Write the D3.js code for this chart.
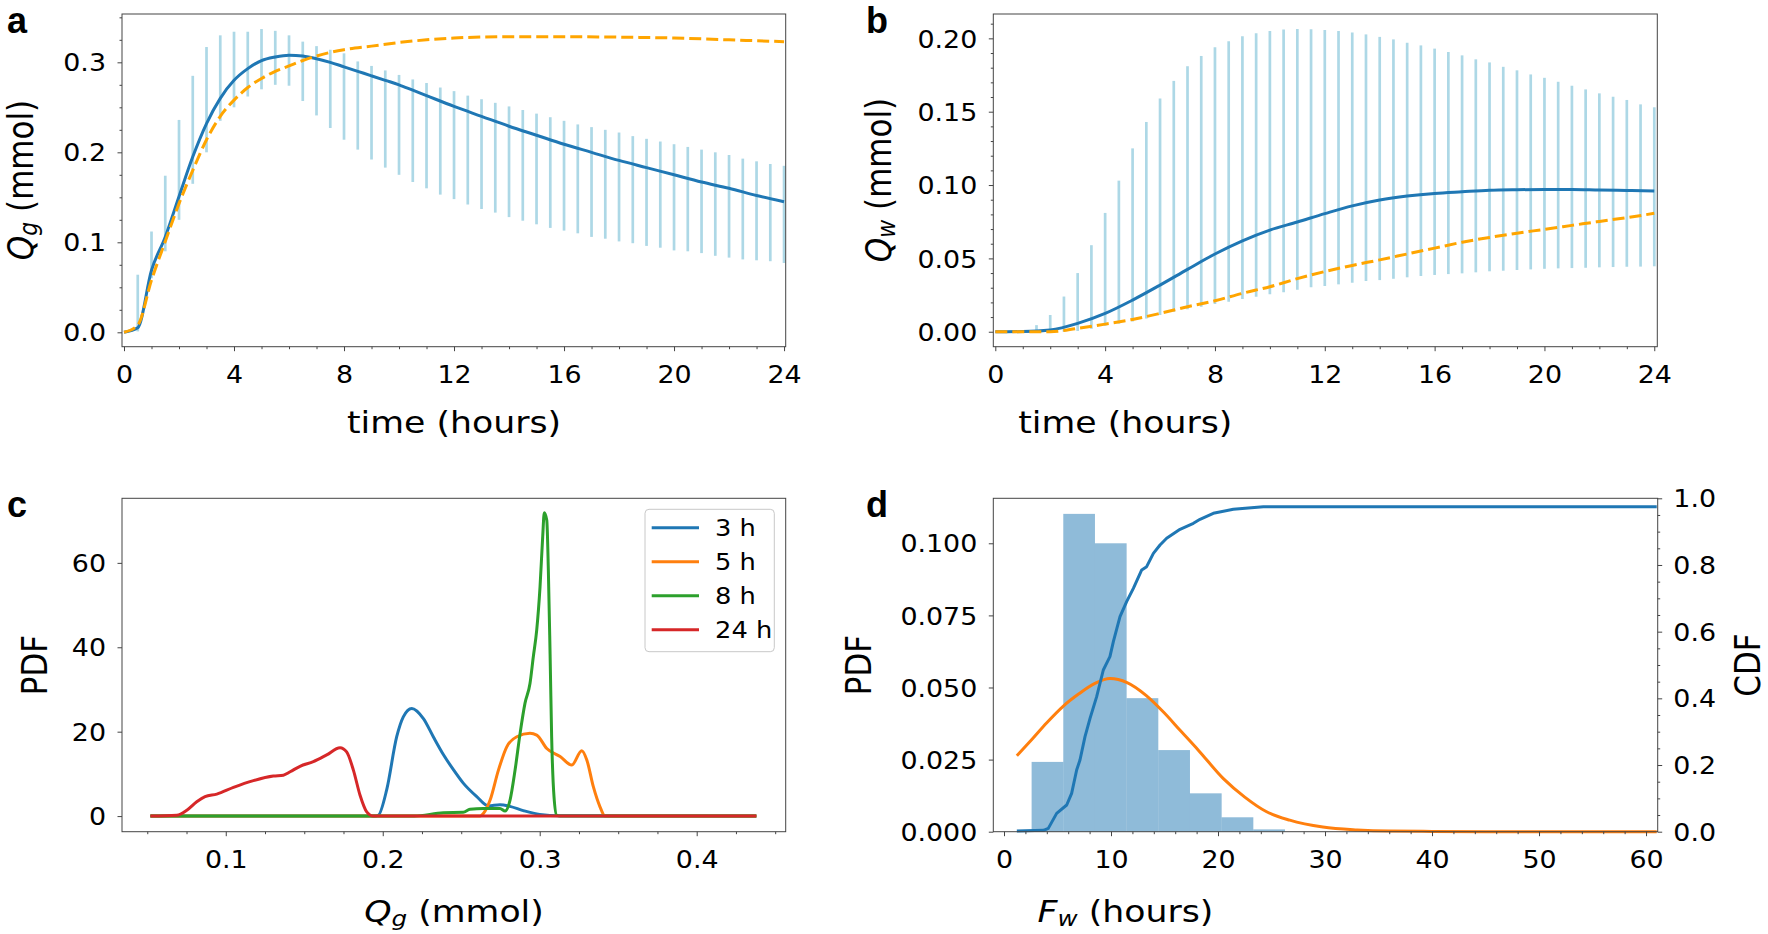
<!DOCTYPE html>
<html lang="en">
<head>
    <meta charset="UTF-8">
    <title>Q_g / Q_w time courses and distributions</title>
    <script src="https://cdnjs.cloudflare.com/ajax/libs/d3/7.8.5/d3.min.js"></script>
    <style>
        body { margin: 0; background: #fff; }
        svg text { font-family: "DejaVu Sans", sans-serif; fill: #000; }
    </style>
</head>
<body>

<script>

    //________________________________________________
    // Data
    //________________________________________________

    // error bar times, shared by panels a and b
    var barTime = [0.5, 1, 1.5, 2, 2.5, 3, 3.5, 4, 4.5, 5, 5.5, 6, 6.5, 7, 7.5, 8, 8.5, 9, 9.5, 10, 10.5, 11, 11.5, 12,
        12.5, 13, 13.5, 14, 14.5, 15, 15.5, 16, 16.5, 17, 17.5, 18, 18.5, 19, 19.5, 20, 20.5, 21, 21.5, 22, 22.5, 23, 23.5, 24];

    // panel a
    var qgBarLow = [0.001, 0.060, 0.090, 0.125, 0.165, 0.200, 0.235, 0.250, 0.262, 0.270, 0.275, 0.274, 0.257, 0.241, 0.227, 0.214,
        0.203, 0.192, 0.183, 0.175, 0.167, 0.160, 0.153, 0.148, 0.142, 0.137, 0.133, 0.128, 0.124, 0.120, 0.116, 0.113,
        0.110, 0.106, 0.104, 0.101, 0.099, 0.096, 0.094, 0.091, 0.090, 0.088, 0.085, 0.083, 0.081, 0.080, 0.079, 0.077];
    var qgBarHigh = [0.064, 0.112, 0.174, 0.236, 0.285, 0.317, 0.330, 0.334, 0.334, 0.337, 0.335, 0.330, 0.323, 0.318, 0.314, 0.310,
        0.301, 0.296, 0.291, 0.286, 0.281, 0.277, 0.272, 0.268, 0.263, 0.259, 0.255, 0.251, 0.247, 0.243, 0.239, 0.235,
        0.231, 0.228, 0.225, 0.222, 0.218, 0.215, 0.212, 0.209, 0.206, 0.203, 0.200, 0.197, 0.193, 0.190, 0.187, 0.185];
    var qgMeanTime = [0, 0.5, 1, 1.5, 2, 2.5, 3, 3.5, 4, 4.5, 5, 5.5, 6, 6.5, 7, 7.5, 8, 8.5, 9, 9.5, 10, 10.5,
        11, 12, 13, 14, 15, 16, 17, 18, 19, 20, 21, 22, 23, 24];
    var qgMean = [0, 0.005, 0.069, 0.106, 0.151, 0.195, 0.232, 0.260, 0.280, 0.293, 0.302, 0.306, 0.308, 0.307, 0.304, 0.300,
        0.295, 0.290, 0.285, 0.280, 0.275, 0.269, 0.263, 0.251, 0.240, 0.229, 0.219, 0.209, 0.200, 0.191, 0.183, 0.175,
        0.167, 0.160, 0.152, 0.145];
    var qgModelTime = [0, 0.5, 1, 1.5, 2, 2.5, 3, 3.5, 4, 4.5, 5, 5.5, 6, 6.5, 7, 7.5, 8, 9, 10, 11, 12, 14, 16, 18, 20, 22, 24];
    var qgModel = [0, 0.008, 0.058, 0.101, 0.143, 0.180, 0.214, 0.240, 0.258, 0.272, 0.282, 0.290, 0.296, 0.302, 0.307, 0.311,
        0.314, 0.318, 0.322, 0.325, 0.327, 0.3285, 0.3285, 0.328, 0.327, 0.325, 0.323];

    // panel b
    var qwBarLow = [0, 0, 0, 0, 0, 0.0005, 0.002, 0.004, 0.0055, 0.007, 0.009, 0.0114, 0.0136, 0.0153, 0.017, 0.0189,
        0.0205, 0.0223, 0.0239, 0.0255, 0.0269, 0.0286, 0.0303, 0.0312, 0.0323, 0.0334, 0.0346, 0.0352, 0.0361, 0.0371,
        0.038, 0.0387, 0.0393, 0.0398, 0.0405, 0.0412, 0.0416, 0.0421, 0.0425, 0.0429, 0.0432, 0.0434, 0.0436, 0.0439,
        0.0441, 0.0443, 0.0444, 0.0446];
    var qwBarHigh = [0, 0.001, 0.0045, 0.0114, 0.024, 0.040, 0.059, 0.081, 0.103, 0.125, 0.143, 0.159, 0.171, 0.181, 0.188,
        0.194, 0.198, 0.2015, 0.2035, 0.205, 0.206, 0.2063, 0.2062, 0.2057, 0.205, 0.204, 0.2027, 0.201, 0.1993, 0.197,
        0.1952, 0.193, 0.1907, 0.1884, 0.1857, 0.1836, 0.1806, 0.1782, 0.1754, 0.1731, 0.1704, 0.1677, 0.1652, 0.1625,
        0.1602, 0.158, 0.155, 0.153];
    var qwTime = [0, 1, 2, 3, 4, 5, 6, 7, 8, 9, 10, 11, 12, 13, 14, 15, 16, 17, 18, 19, 20, 21, 22, 23, 24];
    var qwMean = [0, 0.0001, 0.0012, 0.0057, 0.0125, 0.0216, 0.0318, 0.0425, 0.053, 0.062, 0.0693, 0.0748, 0.0805, 0.0858,
        0.0898, 0.0925, 0.0943, 0.0954, 0.0964, 0.0968, 0.097, 0.097, 0.0966, 0.0963, 0.0959];
    var qwModel = [0, 0, 0, 0.0023, 0.0052, 0.0084, 0.0125, 0.017, 0.0211, 0.0262, 0.0307, 0.0362, 0.041, 0.0452, 0.049,
        0.053, 0.057, 0.061, 0.0643, 0.0672, 0.0698, 0.0725, 0.0752, 0.0778, 0.0807];

    // panel c: PDF of Q_g at four times
    var pdfLabels = ['3 h', '5 h', '8 h', '24 h'];
    var pdfColors = ['#1f77b4', '#ff7f0e', '#2ca02c', '#d62728'];
    var pdf3hQ = [0.052, 0.195, 0.1972, 0.2025, 0.2089, 0.2131, 0.2185, 0.2259, 0.2322, 0.2386, 0.245, 0.2513, 0.2599,
        0.2673, 0.2747, 0.281, 0.2895, 0.300, 0.313, 0.438];
    var pdf3h = [0, 0, 0.2, 6.2, 18.8, 23.5, 25.5, 23.1, 18.8, 14.6, 11.0, 7.8, 4.6, 2.4, 2.7, 2.3, 1.3, 0.4, 0.1, 0];
    var pdf5hQ = [0.052, 0.262, 0.2641, 0.2684, 0.2737, 0.279, 0.2854, 0.2938, 0.2981, 0.3045, 0.313, 0.3204, 0.3268,
        0.330, 0.3342, 0.3384, 0.3416, 0.438];
    var pdf5h = [0, 0, 0.6, 3.8, 10.9, 16.4, 18.8, 19.6, 19.2, 16.0, 14.1, 12.1, 15.5, 13.3, 6.9, 2.2, 0, 0];
    var pdf8hQ = [0.052, 0.22, 0.2386, 0.2513, 0.2556, 0.2641, 0.2747, 0.2779, 0.2811, 0.2843, 0.2875, 0.2906, 0.2938,
        0.2959, 0.2981, 0.3002, 0.3019, 0.3029, 0.3045, 0.3055, 0.3066, 0.3076, 0.3091, 0.3108, 0.313, 0.438];
    var pdf8h = [0, 0, 0.8, 0.9, 1.6, 1.8, 1.8, 1.2, 3.8, 10.9, 19.6, 26.7, 31.4, 37.7, 44.1, 54.3, 66.2, 71.9, 70.1,
        58.3, 38.5, 18.8, 4.6, 0.2, 0, 0];
    var pdf24hQ = [0.052, 0.0688, 0.0752, 0.0815, 0.0868, 0.0943, 0.1049, 0.1176, 0.1303, 0.1367, 0.141, 0.1473, 0.1558,
        0.1643, 0.1728, 0.177, 0.1813, 0.1855, 0.1898, 0.194, 0.438];
    var pdf24h = [0, 0.2, 1.4, 3.4, 4.6, 5.2, 6.8, 8.4, 9.5, 9.7, 10.5, 11.8, 12.9, 14.5, 16.2, 15.2, 10.9, 5.0, 1.0, 0, 0];

    // panel d: histogram of F_w, fitted PDF and empirical CDF
    var histEdges = [2.58, 5.54, 8.5, 11.46, 14.42, 17.38, 20.34, 23.3, 26.26];
    var histDensity = [0.0242, 0.1102, 0.1000, 0.0463, 0.0283, 0.0133, 0.0050, 0.0008];
    var fitHours = [1.2, 2.6, 4, 5.5, 7, 8.5, 9.9, 11.5, 13.3, 14.9, 16.5, 18.2, 20.5, 22.5, 24.5, 26.7, 29.8, 33, 36, 40, 45, 61];
    var fitPdf = [0.0263, 0.0320, 0.0378, 0.0434, 0.0478, 0.0514, 0.0531, 0.0517, 0.0472, 0.0415, 0.0350, 0.0281, 0.0184,
        0.0120, 0.0070, 0.0040, 0.0016, 0.0006, 0.0002, 0.0001, 0, 0];
    var cdfHours = [1.2, 3.7, 4.14, 4.92, 5.86, 6.32, 6.79, 7.1, 7.57, 8.04, 8.66, 9.28, 9.9, 10.22, 10.84, 11.46, 12.09,
        12.87, 13.33, 13.96, 14.58, 15.2, 16.45, 17.7, 18.32, 19.56, 21.43, 24.24, 61];
    var cdf = [0.002, 0.004, 0.01, 0.055, 0.08, 0.115, 0.185, 0.215, 0.285, 0.34, 0.405, 0.485, 0.525, 0.57, 0.645, 0.69,
        0.73, 0.785, 0.795, 0.835, 0.86, 0.88, 0.907, 0.925, 0.937, 0.955, 0.967, 0.975, 0.975];

    // tick values
    var timeTicks = [0, 4, 8, 12, 16, 20, 24];
    var hourMinor = [1, 2, 3, 5, 6, 7, 9, 10, 11, 13, 14, 15, 17, 18, 19, 21, 22, 23];
    var qgTicks = [0, 0.1, 0.2, 0.3];
    var qgMinor = [0.025, 0.05, 0.075, 0.125, 0.15, 0.175, 0.225, 0.25, 0.275, 0.325, 0.35];
    var qwTicks = [0, 0.05, 0.10, 0.15, 0.20];
    var qwMinor = [0.01, 0.02, 0.03, 0.04, 0.06, 0.07, 0.08, 0.09, 0.11, 0.12, 0.13, 0.14, 0.16, 0.17, 0.18, 0.19, 0.21];
    var pdfQTicks = [0.1, 0.2, 0.3, 0.4];
    var pdfQMinor = [0.05, 0.075, 0.125, 0.15, 0.175, 0.225, 0.25, 0.275, 0.325, 0.35, 0.375, 0.425, 0.45];
    var pdfTicks = [0, 20, 40, 60];
    var fwTicks = [0, 10, 20, 30, 40, 50, 60];
    var fwMinor = [2, 4, 6, 8, 12, 14, 16, 18, 22, 24, 26, 28, 32, 34, 36, 38, 42, 44, 46, 48, 52, 54, 56, 58];
    var densTicks = [0, 0.025, 0.05, 0.075, 0.1];
    var cdfTicks = [0, 0.2, 0.4, 0.6, 0.8, 1.0];
    var cdfMinor = [0.05, 0.1, 0.15, 0.25, 0.3, 0.35, 0.45, 0.5, 0.55, 0.65, 0.7, 0.75, 0.85, 0.9, 0.95];

    //________________________________________________
    // Setup
    //________________________________________________
    var W = 1768, H = 934;
    var SX = 1.12;          // glyphs in the source raster are a little wider than tall
    var TICK_MAJOR = 4.5, TICK_MINOR = 2.5;
    var AXIS_COLOR = '#444';

    var svg = d3.select('body').append('svg').attr('width', W).attr('height', H);

    function makePanel(left, right, top, bottom, xDomain, yDomain) {
        var p = {left: left, right: right, top: top, bottom: bottom};
        p.g = svg.append('g');
        p.x = d3.scaleLinear().domain(xDomain).range([left, right]);
        p.y = d3.scaleLinear().domain(yDomain).range([bottom, top]);
        return p;
    }

    function styleAxis(g) {
        g.select('.domain').remove();
        g.attr('font-family', 'DejaVu Sans').attr('font-size', 24);
        g.selectAll('.tick line').attr('stroke', AXIS_COLOR).attr('stroke-width', 1);
        g.selectAll('text').attr('fill', '#000');
    }

    function bottomAxis(p, major, minor, fmt) {
        var gm = p.g.append('g').attr('transform', 'translate(0,' + p.bottom + ')')
                .call(d3.axisBottom(p.x).tickValues(minor).tickSize(TICK_MINOR).tickFormat(''));
        styleAxis(gm);
        var g = p.g.append('g').attr('transform', 'translate(0,' + p.bottom + ')')
                .call(d3.axisBottom(p.x).tickValues(major).tickSize(TICK_MAJOR).tickFormat(fmt));
        styleAxis(g);
        g.selectAll('text').attr('y', 36.5).attr('dy', null).attr('transform', 'scale(' + SX + ',1)');
    }

    function leftAxis(p, y, major, minor, fmt) {
        if (minor) {
            var gm = p.g.append('g').attr('transform', 'translate(' + p.left + ',0)')
                    .call(d3.axisLeft(y).tickValues(minor).tickSize(TICK_MINOR).tickFormat(''));
            styleAxis(gm);
        }
        var g = p.g.append('g').attr('transform', 'translate(' + p.left + ',0)')
                .call(d3.axisLeft(y).tickValues(major).tickSize(TICK_MAJOR).tickFormat(fmt));
        styleAxis(g);
        g.selectAll('text').attr('x', -16 / SX).attr('dy', '0.36em').attr('transform', 'scale(' + SX + ',1)');
    }

    function rightAxis(p, y, major, minor, fmt) {
        var gm = p.g.append('g').attr('transform', 'translate(' + p.right + ',0)')
                .call(d3.axisRight(y).tickValues(minor).tickSize(TICK_MINOR).tickFormat(''));
        styleAxis(gm);
        var g = p.g.append('g').attr('transform', 'translate(' + p.right + ',0)')
                .call(d3.axisRight(y).tickValues(major).tickSize(TICK_MAJOR).tickFormat(fmt));
        styleAxis(g);
        g.selectAll('text').attr('x', 15.6 / SX).attr('dy', '0.36em').attr('transform', 'scale(' + SX + ',1)');
    }

    function frame(p) {
        p.g.append('rect')
                .attr('x', p.left).attr('y', p.top)
                .attr('width', p.right - p.left).attr('height', p.bottom - p.top)
                .attr('fill', 'none').attr('stroke', AXIS_COLOR).attr('stroke-width', 1);
    }

    function errorBars(p, t, lo, hi) {
        p.g.append('g').selectAll('line').data(t).join('line')
                .attr('x1', function (d) { return p.x(d); })
                .attr('x2', function (d) { return p.x(d); })
                .attr('y1', function (d, i) { return p.y(lo[i]); })
                .attr('y2', function (d, i) { return p.y(hi[i]); })
                .attr('stroke', '#add8e6').attr('stroke-width', 2.7);
    }

    function drawLine(p, y, xs, ys, color, width, dash, curve) {
        var line = d3.line()
                .x(function (d) { return p.x(d); })
                .y(function (d, i) { return y(ys[i]); })
                .curve(curve || d3.curveLinear);
        p.g.append('path').datum(xs)
                .attr('d', line)
                .attr('fill', 'none')
                .attr('stroke', color)
                .attr('stroke-width', width)
                .attr('stroke-linejoin', 'round')
                .attr('stroke-dasharray', dash || null);
    }

    // plain or "Sym_sub rest" label, italic symbol with a subscript
    function fillLabel(t, sym, sub, rest) {
        if (!sym) { t.text(rest); return; }
        t.append('tspan').attr('font-style', 'italic').text(sym);
        t.append('tspan').attr('font-style', 'italic').attr('font-size', 22).attr('dy', 4).text(sub);
        t.append('tspan').attr('dy', -4).text(' ' + rest);
    }

    function xLabel(cx, baseline, sym, sub, rest) {
        var t = svg.append('text')
                .attr('transform', 'translate(' + cx + ',' + baseline + ') scale(' + SX + ',1)')
                .attr('text-anchor', 'middle').attr('font-size', 31);
        fillLabel(t, sym, sub, rest);
    }

    function yLabel(bx, cy, sym, sub, rest) {
        var t = svg.append('text')
                .attr('transform', 'translate(' + bx + ',' + cy + ') rotate(-90) scale(1,' + SX + ')')
                .attr('text-anchor', 'middle').attr('font-size', 31);
        fillLabel(t, sym, sub, rest);
    }

    function panelLetter(x, y, s) {
        svg.append('text').attr('x', x).attr('y', y)
                .style('font-family', '"Liberation Sans", Arial, sans-serif')
                .attr('font-weight', 'bold').attr('font-size', 36).text(s);
    }

    var fmt1 = d3.format('.1f'), fmt2 = d3.format('.2f'), fmt3 = d3.format('.3f'), fmt0 = d3.format('d');

    //________________________________________________
    // Panel a
    //________________________________________________
    var pa = makePanel(122, 785.7, 14, 346.7, [-0.073, 24.06], [-0.016, 0.3537]);
    errorBars(pa, barTime, qgBarLow, qgBarHigh);
    drawLine(pa, pa.y, qgMeanTime, qgMean, '#1f77b4', 3, null, d3.curveMonotoneX);
    drawLine(pa, pa.y, qgModelTime, qgModel, '#ffa500', 3, '12,5', d3.curveMonotoneX);
    frame(pa);
    bottomAxis(pa, timeTicks, hourMinor, fmt0);
    leftAxis(pa, pa.y, qgTicks, qgMinor, fmt1);
    xLabel(454, 433, null, null, 'time (hours)');
    yLabel(33, 180, 'Q', 'g', '(mmol)');
    panelLetter(7, 33, 'a');

    //________________________________________________
    // Panel b
    //________________________________________________
    var pb = makePanel(993.3, 1657.3, 14, 346.7, [-0.073, 24.11], [-0.0102, 0.2166]);
    errorBars(pb, barTime, qwBarLow, qwBarHigh);
    drawLine(pb, pb.y, qwTime, qwMean, '#1f77b4', 3, null, d3.curveMonotoneX);
    drawLine(pb, pb.y, qwTime, qwModel, '#ffa500', 3, '12,5', d3.curveMonotoneX);
    frame(pb);
    bottomAxis(pb, timeTicks, hourMinor, fmt0);
    leftAxis(pb, pb.y, qwTicks, qwMinor, fmt2);
    xLabel(1125.3, 433, null, null, 'time (hours)');
    yLabel(891, 180, 'Q', 'w', '(mmol)');
    panelLetter(866, 33, 'b');

    //________________________________________________
    // Panel c
    //________________________________________________
    var pc = makePanel(122, 785.7, 498.3, 831.7, [0.0339, 0.4567], [-3.7, 75.3]);
    var pdfQ = [pdf3hQ, pdf5hQ, pdf8hQ, pdf24hQ];
    var pdfV = [pdf3h, pdf5h, pdf8h, pdf24h];
    pdfQ.forEach(function (xs, k) {
        drawLine(pc, pc.y, xs, pdfV[k], pdfColors[k], 3, null, d3.curveMonotoneX);
    });
    frame(pc);
    bottomAxis(pc, pdfQTicks, pdfQMinor, fmt1);
    leftAxis(pc, pc.y, pdfTicks, null, fmt0);
    xLabel(454, 922, 'Q', 'g', '(mmol)');
    yLabel(46.7, 665, null, null, 'PDF');
    panelLetter(7, 517, 'c');

    // legend
    var leg = pc.g.append('g');
    leg.append('rect')
            .attr('x', 645).attr('y', 509.3).attr('width', 129.3).attr('height', 142.4)
            .attr('rx', 4).attr('fill', '#fff').attr('fill-opacity', 0.8)
            .attr('stroke', '#c8c8c8').attr('stroke-width', 1);
    var legRow = leg.selectAll('g.row').data(pdfLabels).join('g')
            .attr('class', 'row')
            .attr('transform', function (d, i) { return 'translate(0,' + (527.7 + i * 34) + ')'; });
    legRow.append('line')
            .attr('x1', 651.7).attr('x2', 699).attr('y1', 0).attr('y2', 0)
            .attr('stroke', function (d, i) { return pdfColors[i]; }).attr('stroke-width', 3);
    legRow.append('text')
            .attr('transform', 'translate(715,0) scale(' + SX + ',1)')
            .attr('dy', '0.36em').attr('font-size', 23)
            .text(function (d) { return d; });

    //________________________________________________
    // Panel d
    //________________________________________________
    var pd = makePanel(993.3, 1657.7, 498.3, 831.7, [-1.0, 61.09], [0, 0.1156]);
    var yCdf = d3.scaleLinear().domain([0, 1]).range([pd.bottom, pd.top]);
    pd.g.append('g').selectAll('rect').data(histDensity).join('rect')
            .attr('x', function (d, i) { return pd.x(histEdges[i]); })
            .attr('width', function (d, i) { return pd.x(histEdges[i + 1]) - pd.x(histEdges[i]); })
            .attr('y', function (d) { return pd.y(d); })
            .attr('height', function (d) { return pd.y(0) - pd.y(d); })
            .attr('fill', '#1f77b4').attr('fill-opacity', 0.5);
    drawLine(pd, pd.y, fitHours, fitPdf, '#ff7f0e', 3, null, d3.curveMonotoneX);
    drawLine(pd, yCdf, cdfHours, cdf, '#1f77b4', 3, null, d3.curveLinear);
    frame(pd);
    bottomAxis(pd, fwTicks, fwMinor, fmt0);
    leftAxis(pd, pd.y, densTicks, null, fmt3);
    rightAxis(pd, yCdf, cdfTicks, cdfMinor, fmt1);
    xLabel(1125.5, 922, 'F', 'w', '(hours)');
    yLabel(871, 665, null, null, 'PDF');
    yLabel(1760, 665, null, null, 'CDF');
    panelLetter(866, 517, 'd');

</script>

</body>
</html>
